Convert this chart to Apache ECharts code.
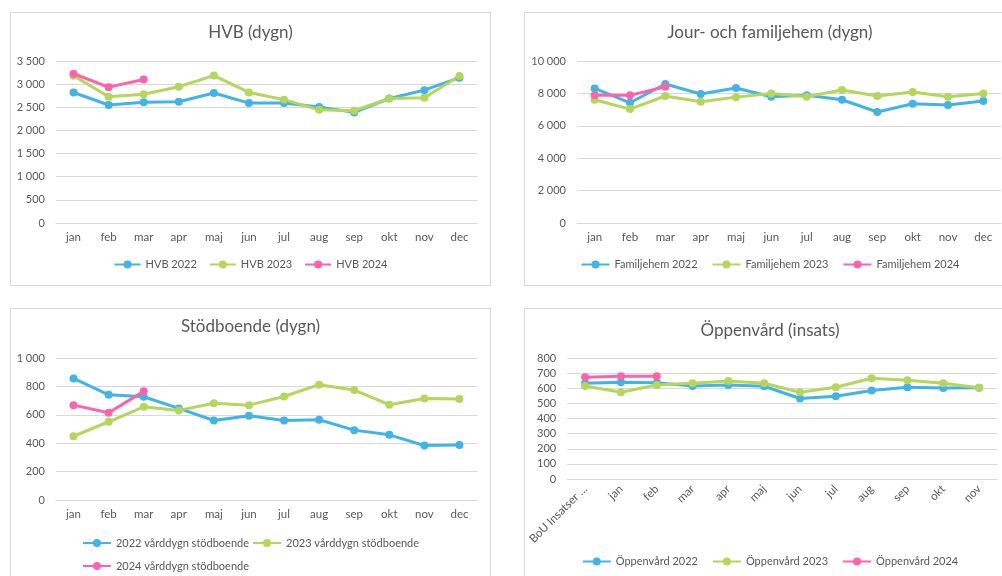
<!DOCTYPE html>
<html>
<head>
<meta charset="utf-8">
<script src="https://cdn.jsdelivr.net/npm/echarts@6/dist/echarts.min.js"></script>
<style>
  html, body { margin: 0; padding: 0; background: #fff; overflow: hidden; width: 1002px; height: 576px; }
  .panel { position: absolute; border: 1px solid #d9d9d9; background: #fff; }
  .panel .chart { width: 100%; height: 100%; }
</style>
</head>
<body>
<div class="panel" style="left:10px; top:12px; width:479px; height:272px;"><div class="chart" id="c1"></div></div>
<div class="panel" style="left:524px; top:12px; width:490px; height:272px;"><div class="chart" id="c2"></div></div>
<div class="panel" style="left:10px; top:308px; width:479px; height:290px;"><div class="chart" id="c3"></div></div>
<div class="panel" style="left:524px; top:308px; width:490px; height:290px;"><div class="chart" id="c4"></div></div>
<script>
// kategorier
const months = ['jan', 'feb', 'mar', 'apr', 'maj', 'jun', 'jul', 'aug', 'sep', 'okt', 'nov', 'dec'];
const oppenCats = ['BoU Insatser …', 'jan', 'feb', 'mar', 'apr', 'maj', 'jun', 'jul', 'aug', 'sep', 'okt', 'nov'];

// HVB (dygn)
const hvb2022 = [2820, 2550, 2610, 2620, 2810, 2590, 2595, 2505, 2390, 2690, 2870, 3140];
const hvb2023 = [3180, 2730, 2780, 2945, 3185, 2820, 2665, 2445, 2425, 2690, 2705, 3175];
const hvb2024 = [3225, 2935, 3100];

// Jour- och familjehem (dygn)
const fam2022 = [8310, 7420, 8580, 7960, 8330, 7790, 7880, 7610, 6850, 7360, 7280, 7530];
const fam2023 = [7610, 7030, 7840, 7490, 7770, 8000, 7800, 8210, 7840, 8080, 7790, 8000];
const fam2024 = [7880, 7880, 8410];

// Stödboende (dygn)
const stod2022 = [856, 741, 727, 645, 560, 593, 560, 565, 492, 459, 384, 388];
const stod2023 = [449, 551, 656, 631, 682, 668, 729, 812, 774, 671, 715, 711];
const stod2024 = [668, 614, 765];

// Öppenvård (insats)
const oppen2022 = [633, 640, 637, 615, 622, 613, 532, 547, 585, 607, 602, 603];
const oppen2023 = [615, 574, 622, 633, 648, 633, 574, 607, 666, 653, 633, 604];
const oppen2024 = [673, 679, 679];

const BLUE = '#41b4e6';
const GREEN = '#b4d65a';
const PINK = '#fe62ad';
const TEXT = '#595959';
const FONT = 'Lato, "Open Sans", sans-serif';

function fmt(v) {
    return String(v).replace(/\B(?=(\d{3})+(?!\d))/g, ' ');
}

function line(name, data, color) {
    return {
        name: name,
        type: 'line',
        data: data,
        symbol: 'circle',
        symbolSize: 8,
        lineStyle: { width: 3, color: color },
        itemStyle: { color: color },
        emphasis: { disabled: true },
        animation: false
    };
}

function makeOption(cfg) {
    return {
        textStyle: { fontFamily: FONT },
        title: {
            text: cfg.title,
            left: 'center',
            top: cfg.titleTop,
            padding: 0,
            textStyle: { color: TEXT, fontSize: 17, fontWeight: 'normal', fontFamily: FONT }
        },
        legend: Object.assign({
            left: 'center',
            top: cfg.legendTop,
            padding: 0,
            itemWidth: 28,
            itemHeight: 10,
            itemGap: 14,
            textStyle: { color: TEXT, fontSize: 11, fontFamily: FONT },
            data: cfg.series.map(s => s.name)
        }, cfg.legend || {}),
        grid: cfg.grid,
        xAxis: {
            type: 'category',
            data: cfg.categories,
            axisLine: { lineStyle: { color: '#d9d9d9', width: 1 } },
            axisTick: { show: false },
            axisLabel: Object.assign({ color: TEXT, fontSize: 11.5, fontFamily: FONT, interval: 0 }, cfg.xLabel || {})
        },
        yAxis: {
            type: 'value',
            min: 0,
            max: cfg.max,
            interval: cfg.interval,
            axisLine: { show: false },
            axisTick: { show: false },
            splitLine: { lineStyle: { color: '#d9d9d9', width: 1 } },
            axisLabel: { color: TEXT, fontSize: 11, fontFamily: FONT, margin: 11, formatter: fmt }
        },
        series: cfg.series
    };
}

const charts = [];

function draw(id, cfg) {
    const chart = echarts.init(document.getElementById(id));
    chart.setOption(makeOption(cfg));
    charts.push(chart);
}

draw('c1', {
    title: 'HVB (dygn)',
    titleTop: 11,
    legendTop: 246,
    legend: { itemWidth: 26, itemGap: 12 },
    grid: { left: 45, top: 48, width: 421, height: 162 },
    categories: months,
    max: 3500,
    interval: 500,
    series: [
        line('HVB 2022', hvb2022, BLUE),
        line('HVB 2023', hvb2023, GREEN),
        line('HVB 2024', hvb2024, PINK)
    ]
});

draw('c2', {
    title: 'Jour- och familjehem (dygn)',
    titleTop: 11,
    legendTop: 246,
    grid: { left: 52, top: 48, width: 424, height: 162 },
    categories: months,
    max: 10000,
    interval: 2000,
    series: [
        line('Familjehem 2022', fam2022, BLUE),
        line('Familjehem 2023', fam2023, GREEN),
        line('Familjehem 2024', fam2024, PINK)
    ]
});

draw('c3', {
    title: 'Stödboende (dygn)',
    titleTop: 9,
    legendTop: 224,
    legend: {
        width: 365,
        itemGap: 3,
        textStyle: { color: TEXT, fontSize: 11, fontFamily: FONT, lineHeight: 20 }
    },
    grid: { left: 45, top: 49, width: 421, height: 142 },
    categories: months,
    max: 1000,
    interval: 200,
    series: [
        line('2022 vårddygn stödboende', stod2022, BLUE),
        line('2023 vårddygn stödboende', stod2023, GREEN),
        line('2024 vårddygn stödboende', stod2024, PINK)
    ]
});

draw('c4', {
    title: 'Öppenvård (insats)',
    titleTop: 13,
    legendTop: 247,
    grid: { left: 40, top: 49, width: 432, height: 121 },
    categories: oppenCats,
    max: 800,
    interval: 100,
    xLabel: { rotate: 45 },
    series: [
        line('Öppenvård 2022', oppen2022, BLUE),
        line('Öppenvård 2023', oppen2023, GREEN),
        line('Öppenvård 2024', oppen2024, PINK)
    ]
});

window.addEventListener('resize', function() {
    charts.forEach(c => c.resize());
});
</script>
</body>
</html>
